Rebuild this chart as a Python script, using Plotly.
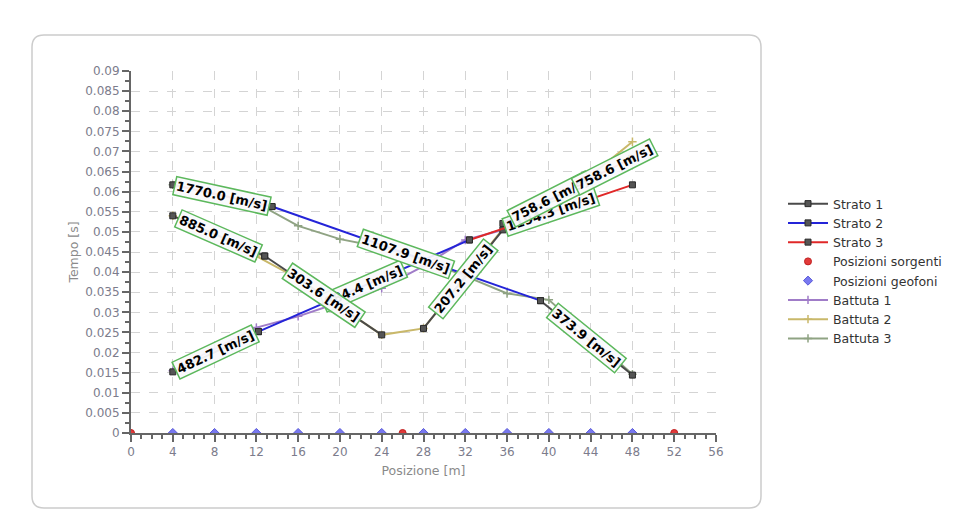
import math
import plotly.graph_objects as go

# ---- acquisition geometry -------------------------------------------------
source_x = [0, 26, 52]
geophone_x = [4, 8, 12, 16, 20, 24, 28, 32, 36, 40, 44, 48]

# ---- picked first arrivals per shot (Battuta) ------------------------------
b1_x = [4, 8, 12, 16, 20, 24, 28, 32, 36, 40]
b1_t = [0.0155, 0.0210, 0.0262, 0.0290, 0.0325, 0.0360, 0.0415, 0.0480, 0.0508, 0.0545]

b2_x = [4, 8, 12, 16, 20, 24, 28, 32, 36, 40, 44, 48]
b2_t = [0.0540, 0.0495, 0.0440, 0.0384, 0.0314, 0.0244, 0.0260, 0.0389, 0.0521, 0.0575, 0.0640, 0.0724]

b3_x = [4, 8, 12, 16, 20, 24, 28, 32, 36, 40, 44, 48]
b3_t = [0.0617, 0.0595, 0.0572, 0.0515, 0.0482, 0.0462, 0.0430, 0.0390, 0.0347, 0.0331, 0.0238, 0.0146]

# ---- fitted layer segments (Strato) ----------------------------------------
seg_layer = [1, 2, 1, 1, 3, 2, 1, 1, 3, 2, 3]
seg_x0 = [4.0, 12.2, 4.0, 12.8, 4.0, 13.5, 28.0, 39.2, 32.4, 35.6, 44.7]
seg_t0 = [0.0152, 0.0252, 0.0540, 0.0440, 0.0617, 0.0563, 0.0260, 0.0329, 0.0480, 0.0521, 0.0641]
seg_x1 = [12.2, 32.4, 12.8, 24.0, 13.5, 39.2, 35.6, 48.0, 48.0, 44.7, 47.9]
seg_t1 = [0.0252, 0.0480, 0.0440, 0.0244, 0.0563, 0.0329, 0.0505, 0.0144, 0.0617, 0.0641, 0.0683]
seg_velocity = [482.7, 884.4, 885.0, 303.6, 1770.0, 1107.9, 207.2, 373.9, 1194.3, 758.6, 758.6]

# ---- axes --------------------------------------------------------------------
x_range = [0, 56]
y_range = [0, 0.09]
y_tickvals = [i * 0.005 for i in range(19)]
y_ticktext = ["0", "0.005", "0.01", "0.015", "0.02", "0.025", "0.03", "0.035", "0.04",
              "0.045", "0.05", "0.055", "0.06", "0.065", "0.07", "0.075", "0.08", "0.085", "0.09"]

W, H = 956, 529
M_L, M_R, M_T, M_B = 131, 240, 71, 96
plot_w = W - M_L - M_R
plot_h = H - M_T - M_B
kx = plot_w / (x_range[1] - x_range[0])
ky = plot_h / (y_range[1] - y_range[0])

layer_color = {1: "#4a4a4a", 2: "#2424d8", 3: "#e02828"}

fig = go.Figure()

# shots first so the fitted layers sit above them
for name, xs, ts, col, rank in [
    ("Battuta 1", b1_x, b1_t, "#a07cc8", 6),
    ("Battuta 2", b2_x, b2_t, "#c9b86a", 7),
    ("Battuta 3", b3_x, b3_t, "#8fa383", 8),
]:
    fig.add_trace(go.Scatter(
        x=xs, y=ts, name=name, mode="lines+markers", legendrank=rank,
        line=dict(color=col, width=2),
        marker=dict(symbol="cross-thin", size=6, line=dict(color=col, width=1.5), color=col),
    ))

for layer in (1, 2, 3):
    xs, ts = [], []
    for L, x0, t0, x1, t1 in zip(seg_layer, seg_x0, seg_t0, seg_x1, seg_t1):
        if L == layer:
            xs += [x0, x1, None]
            ts += [t0, t1, None]
    fig.add_trace(go.Scatter(
        x=xs, y=ts, name=f"Strato {layer}", mode="lines+markers", legendrank=layer,
        line=dict(color=layer_color[layer], width=2),
        marker=dict(symbol="square", size=6, color="#555555",
                    line=dict(color="#2a2a2a", width=1)),
    ))

fig.add_trace(go.Scatter(
    x=source_x, y=[0] * len(source_x), name="Posizioni sorgenti", mode="markers",
    legendrank=4, marker=dict(symbol="circle", size=7, color="#e23a3a",
                              line=dict(color="#c02020", width=1)),
))
fig.add_trace(go.Scatter(
    x=geophone_x, y=[0] * len(geophone_x), name="Posizioni geofoni", mode="markers",
    legendrank=5, marker=dict(symbol="diamond", size=7, color="#7878f0",
                              line=dict(color="#5a5ad8", width=1)),
))

# velocity labels along each fitted segment
for x0, t0, x1, t1, v in zip(seg_x0, seg_t0, seg_x1, seg_t1, seg_velocity):
    sx = (x1 - x0) * kx
    sy = -(t1 - t0) * ky
    ang = math.degrees(math.atan2(sy, sx))
    fig.add_annotation(
        x=(x0 + x1) / 2, y=(t0 + t1) / 2, xref="x", yref="y",
        text=f"<b>{v:.1f} [m/s]</b>", showarrow=False, textangle=ang,
        font=dict(family="DejaVu Sans", size=13, color="#000000"),
        bgcolor="rgba(250,250,252,0.93)", bordercolor="#5cb85c", borderwidth=1.5, borderpad=1,
    )

# rounded frame around the chart
fx0, fx1 = (32 - M_L) / plot_w, (761 - M_L) / plot_w
fy0, fy1 = (H - M_B - 508) / plot_h, (H - M_B - 35) / plot_h
rx, ry = 12 / plot_w, 12 / plot_h
frame = (f"M {fx0 + rx} {fy1} L {fx1 - rx} {fy1} Q {fx1} {fy1} {fx1} {fy1 - ry} "
         f"L {fx1} {fy0 + ry} Q {fx1} {fy0} {fx1 - rx} {fy0} "
         f"L {fx0 + rx} {fy0} Q {fx0} {fy0} {fx0} {fy0 + ry} "
         f"L {fx0} {fy1 - ry} Q {fx0} {fy1} {fx0 + rx} {fy1} Z")
fig.add_shape(type="path", path=frame, xref="paper", yref="paper",
              line=dict(color="#cccccc", width=1.5), layer="below")

axis_font = dict(family="DejaVu Sans", size=12, color="#7c7c8c")
title_font = dict(family="DejaVu Sans", size=12.5, color="#8a8a8a")

fig.update_xaxes(
    range=x_range, dtick=4, tick0=0, showline=True, linecolor="#666666", linewidth=2,
    ticks="outside", ticklen=7, tickwidth=1.5, tickcolor="#666666",
    minor=dict(dtick=1, ticks="outside", ticklen=4, tickwidth=1.5, tickcolor="#666666", showgrid=False),
    showgrid=True, gridcolor="#d4d4d4", griddash="dash", gridwidth=1, zeroline=False,
    tickfont=axis_font, title=dict(text="Posizione [m]", font=title_font, standoff=8),
)
fig.update_yaxes(
    range=y_range, tickvals=y_tickvals, ticktext=y_ticktext, showline=True,
    linecolor="#666666", linewidth=2, ticks="outside", ticklen=7, tickwidth=1.5, tickcolor="#666666",
    minor=dict(dtick=0.0025, tick0=0, ticks="outside", ticklen=4, tickwidth=1.5,
               tickcolor="#666666", showgrid=False),
    showgrid=True, gridcolor="#d4d4d4", griddash="dash", gridwidth=1, zeroline=False,
    tickfont=axis_font, title=dict(text="Tempo [s]", font=title_font, standoff=4),
)

fig.update_layout(
    width=W, height=H, margin=dict(l=M_L, r=M_R, t=M_T, b=M_B, autoexpand=False),
    paper_bgcolor="white", plot_bgcolor="white",
    legend=dict(x=(783 - M_L) / plot_w, y=(H - M_B - 189) / plot_h, xanchor="left", yanchor="top",
                font=dict(family="DejaVu Sans", size=12.5, color="#333333"),
                traceorder="normal", tracegroupgap=0, itemwidth=40, bgcolor="rgba(0,0,0,0)"),
    showlegend=True,
)

fig.write_html("out.html")
